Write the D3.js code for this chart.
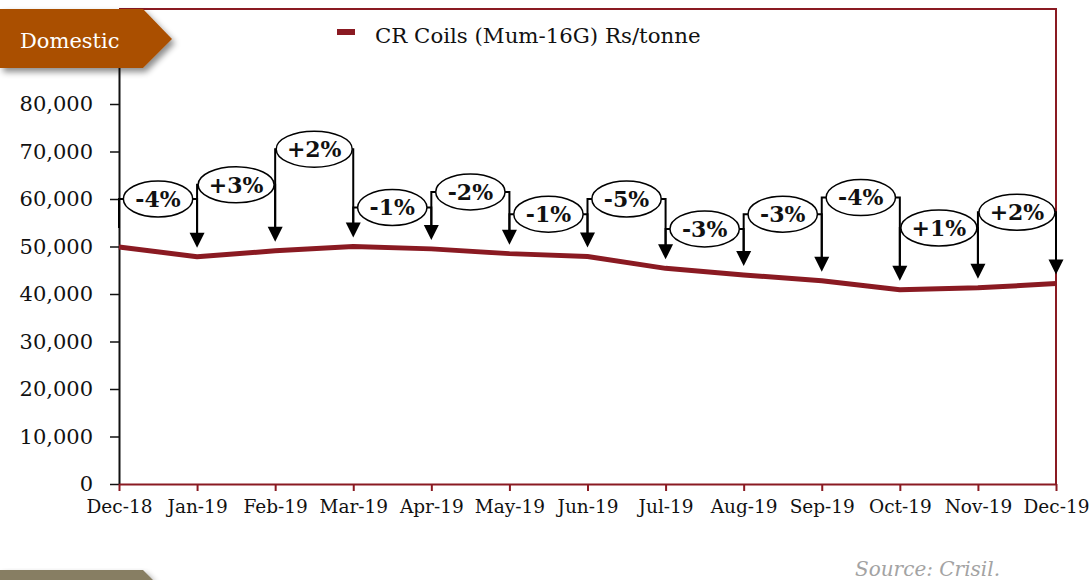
<!DOCTYPE html>
<html>
<head>
<meta charset="utf-8">
<script src="https://cdn.jsdelivr.net/npm/d3@7"></script>
<style>
  html, body { margin: 0; padding: 0; background: #fff; }
  svg { display: block; font-family: "DejaVu Serif", "Liberation Serif", serif; }
</style>
</head>
<body>
<div id="chart"></div>
<script>
// chart data
var months = ["Dec-18", "Jan-19", "Feb-19", "Mar-19", "Apr-19", "May-19", "Jun-19",
              "Jul-19", "Aug-19", "Sep-19", "Oct-19", "Nov-19", "Dec-19"];
var crCoils = [49900, 47850, 49100, 50000, 49500, 48500, 47900,
               45400, 44000, 42800, 40900, 41300, 42200];
var changeLabels = ["-4%", "+3%", "+2%", "-1%", "-2%", "-1%", "-5%", "-3%", "-3%", "-4%", "+1%", "+2%"];
// height of each change bubble, read in Rs/tonne
var changeLevels = [60000, 63000, 70500, 58200, 61500, 56800, 60000, 53700, 56800, 60300, 53900, 57200];
var yTickValues = [0, 10000, 20000, 30000, 40000, 50000, 60000, 70000, 80000];
var seriesName = "CR Coils (Mum-16G) Rs/tonne";

function init() {
    var w = 1089, h = 580;
    var left = 119, right = 1056, top = 9, bottom = 484;
    var red = "#8a1a22";

    var svg = d3.select("#chart").append("svg")
        .attr("width", w)
        .attr("height", h);

    var defs = svg.append("defs");
    var f = defs.append("filter").attr("id", "shadow")
        .attr("x", "-20%").attr("y", "-20%").attr("width", "150%").attr("height", "160%");
    f.append("feDropShadow")
        .attr("dx", 3).attr("dy", 4).attr("stdDeviation", 3)
        .attr("flood-color", "#000").attr("flood-opacity", 0.45);

    var x = d3.scalePoint().domain(months).range([left, right]);
    var y = d3.scaleLinear().domain([0, 100000]).range([bottom, top]);

    // frame (top + right border)
    svg.append("path")
        .attr("d", `M${left},${top}H${right}V${bottom}`)
        .attr("fill", "none")
        .attr("stroke", red)
        .attr("stroke-width", 2);

    // y axis
    var yAxis = svg.append("g")
        .attr("transform", `translate(${left},0)`)
        .call(d3.axisLeft(y).tickValues(yTickValues).tickSize(9).tickPadding(17)
            .tickFormat(d3.format(",")).tickSizeOuter(0));
    yAxis.select(".domain").attr("stroke", "#111").attr("stroke-width", 2);
    yAxis.selectAll(".tick line").attr("stroke", "#111").attr("stroke-width", 1.5);
    yAxis.selectAll("text")
        .attr("fill", "#111")
        .style("font-size", "21px")
        .style("font-family", "DejaVu Serif");

    // x axis
    var xAxis = svg.append("g")
        .attr("transform", `translate(0,${bottom})`)
        .call(d3.axisBottom(x).tickSize(7).tickPadding(9).tickSizeOuter(0));
    xAxis.select(".domain").attr("stroke", red).attr("stroke-width", 2);
    xAxis.selectAll(".tick line").attr("stroke", red).attr("stroke-width", 2);
    xAxis.selectAll("text")
        .attr("fill", "#111")
        .style("font-size", "18.5px")
        .style("font-family", "DejaVu Serif");

    // price line
    var line = d3.line()
        .x(function (d, i) { return x(months[i]); })
        .y(function (d) { return y(d); });
    svg.append("path")
        .datum(crCoils)
        .attr("d", line)
        .attr("fill", "none")
        .attr("stroke", red)
        .attr("stroke-width", 5)
        .attr("stroke-linejoin", "round");

    // change brackets with arrows
    var headW = 15, headH = 15;
    function tipY(i) { return y(crCoils[i]) - 9; }

    var brackets = svg.append("g");
    changeLabels.forEach(function (lab, i) {
        var x0 = x(months[i]), x1 = x(months[i + 1]);
        var ly = y(changeLevels[i]);
        brackets.append("path")
            .attr("d", `M${x0},${i === 0 ? tipY(0) - 10 : tipY(i) - headH + 1}V${ly}H${x1}V${tipY(i + 1) - headH + 1}`)
            .attr("fill", "none")
            .attr("stroke", "#000")
            .attr("stroke-width", 2);
    });
    months.forEach(function (m, i) {
        if (i === 0) return;
        var cx = x(m), ty = tipY(i);
        brackets.append("path")
            .attr("d", `M${cx - headW / 2},${ty - headH}L${cx + headW / 2},${ty - headH}L${cx},${ty}Z`)
            .attr("fill", "#000");
    });

    var bubbles = svg.append("g");
    changeLabels.forEach(function (lab, i) {
        var cx = (x(months[i]) + x(months[i + 1])) / 2;
        var cy = y(changeLevels[i]);
        var g = bubbles.append("g");
        var ell = g.append("ellipse")
            .attr("cx", cx).attr("cy", cy)
            .attr("ry", 18)
            .attr("fill", "#fff")
            .attr("stroke", "#000")
            .attr("stroke-width", 1.5);
        var t = g.append("text")
            .attr("x", cx).attr("y", cy)
            .attr("dy", "0.36em")
            .attr("text-anchor", "middle")
            .attr("font-weight", "bold")
            .style("font-size", "22px")
            .attr("fill", "#111")
            .text(lab);
        var tw = t.node().getComputedTextLength();
        ell.attr("rx", Math.min(tw / 2 + 12, 38));
    });

    // legend
    svg.append("line")
        .attr("x1", 337).attr("x2", 355)
        .attr("y1", 32).attr("y2", 32)
        .attr("stroke", red)
        .attr("stroke-width", 6);
    svg.append("text")
        .attr("x", 375).attr("y", 43)
        .style("font-size", "21.3px")
        .attr("fill", "#111")
        .text(seriesName);

    // "Domestic" tag
    svg.append("path")
        .attr("d", "M0,9H143L172,39L143,68H0Z")
        .attr("fill", "#aa5002")
        .attr("filter", "url(#shadow)");
    svg.append("text")
        .attr("x", 20).attr("y", 48)
        .style("font-size", "21px")
        .attr("fill", "#fff")
        .text("Domestic");

    // next section tag, cut off at the bottom
    svg.append("path")
        .attr("d", "M0,570H143L153,580H0Z")
        .attr("fill", "#877e63")
        .attr("filter", "url(#shadow)");

    // source
    svg.append("text")
        .attr("x", 855).attr("y", 576)
        .style("font-size", "20px")
        .style("font-style", "italic")
        .attr("fill", "#a3a3a3")
        .text("Source: Crisil.");
}

window.onload = init;
</script>
</body>
</html>
